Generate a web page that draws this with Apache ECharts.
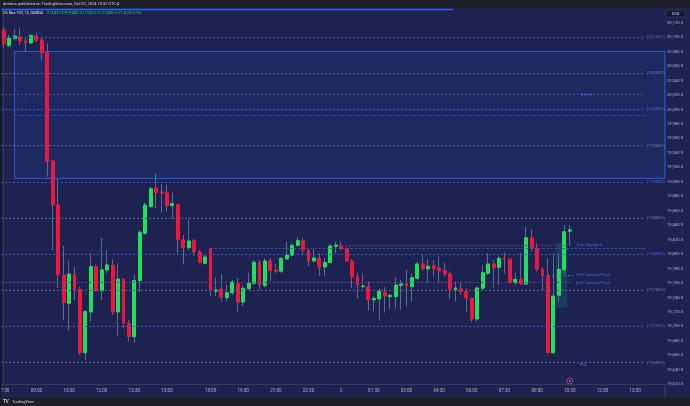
<!DOCTYPE html>
<html><head><meta charset="utf-8">
<script src="https://cdn.jsdelivr.net/npm/echarts/dist/echarts.min.js"></script>
<style>html,body{margin:0;padding:0;background:#1f2027;}#c{width:690px;height:406px;}</style>
</head><body><div id="c"></div>
<script>
// ---- data (US Nas 100, 15m, OANDA) ----
const opens = [20109.9,20088.2,20097.9,20100.6,20095.1,20091.9,20101.6,20096.1,20078.5,19928.8,
19867.9,19771.2,19732.0,19771.6,19751.4,19663.7,19720.0,19782.6,19749.4,19778.1,
19784.6,19720.0,19765.6,19704.4,19685.8,19763.3,19828.8,19865.6,19891.5,19885.9,
19884.9,19867.0,19868.4,19820.0,19808.9,19819.1,19803.0,19787.3,19808.1,19748.6,
19751.4,19739.8,19746.7,19760.1,19733.8,19752.2,19759.7,19789.1,19756.4,19790.9,
19778.1,19776.3,19793.3,19798.4,19812.2,19818.6,19805.7,19790.5,19794.6,19782.2,
19788.2,19810.8,19811.7,19807.1,19790.5,19768.8,19755.0,19755.0,19736.6,19738.0,
19747.2,19741.1,19741.1,19756.9,19759.1,19755.0,19766.6,19786.4,19779.4,19784.0,
19780.8,19777.7,19772.5,19750.8,19752.2,19748.1,19738.9,19710.3,19752.8,19773.5,
19786.4,19781.8,19794.2,19793.3,19760.5,19765.2,19758.7,19822.7,19808.1,19779.0,
19769.8,19663.7,19743.1,19778.1,19831.6];
const closes = [20090.6,20098.4,20101.6,20094.7,20092.3,20102.6,20095.1,20078.1,19927.8,19867.9,
19771.2,19732.9,19772.5,19750.4,19663.7,19720.4,19782.6,19749.4,19778.1,19785.0,
19720.0,19765.6,19704.4,19685.8,19763.3,19830.2,19867.9,19890.5,19884.9,19884.5,
19867.0,19869.7,19819.6,19808.9,19818.2,19803.0,19788.2,19796.0,19750.4,19750.4,
19740.3,19746.7,19761.5,19733.8,19752.8,19759.7,19788.7,19757.3,19790.5,19777.1,
19776.3,19794.2,19798.8,19812.2,19818.6,19805.7,19790.5,19794.6,19782.2,19788.2,
19811.2,19812.6,19807.1,19790.5,19768.0,19757.3,19755.9,19736.6,19738.9,19748.6,
19742.1,19743.1,19757.3,19758.7,19756.4,19767.4,19786.4,19779.4,19783.2,19780.4,
19777.1,19772.5,19751.4,19753.2,19748.1,19739.8,19710.3,19753.2,19774.3,19786.4,
19781.2,19794.2,19793.8,19760.5,19765.2,19758.7,19822.7,19808.1,19779.0,19770.2,
19663.7,19742.1,19779.0,19831.0,19833.5];
const lows = [20085.0,20086.8,20096.8,20089.2,20079.9,20091.2,20093.7,20067.5,19907.1,19805.7,
19753.2,19708.9,19694.1,19736.6,19660.5,19653.6,19706.6,19748.1,19736.6,19773.5,
19715.8,19686.8,19697.5,19678.9,19677.5,19746.7,19826.5,19863.4,19863.4,19857.3,
19858.7,19848.6,19801.1,19785.9,19805.7,19797.4,19787.3,19785.9,19742.1,19742.1,
19734.2,19734.2,19743.5,19720.4,19728.3,19750.4,19757.3,19751.4,19754.2,19762.8,
19773.5,19773.5,19791.9,19797.4,19810.3,19798.8,19783.6,19788.2,19769.8,19769.8,
19787.3,19801.1,19805.7,19789.5,19752.8,19738.9,19752.8,19721.4,19720.4,19707.9,
19719.0,19723.7,19725.1,19722.8,19727.3,19734.2,19764.2,19778.1,19760.5,19768.8,
19759.7,19768.8,19737.5,19734.2,19743.5,19720.4,19706.6,19706.6,19750.4,19771.2,
19752.8,19757.3,19773.5,19758.7,19757.3,19757.3,19757.3,19803.4,19775.7,19750.4,
19662.9,19661.9,19734.2,19772.5,19812.6];
const highs = [20114.1,20103.0,20110.9,20112.3,20098.4,20103.0,20106.2,20100.6,20091.5,19930.2,
19903.9,19811.2,19790.9,19782.6,19755.0,19722.8,19801.1,19785.0,19821.9,19805.7,
19792.9,19786.4,19766.6,19708.9,19771.2,19833.4,19871.1,19893.2,19911.8,19897.0,
19896.0,19884.9,19869.3,19826.5,19848.1,19820.5,19805.7,19798.8,19808.9,19768.0,
19772.1,19757.3,19764.2,19766.6,19757.3,19774.3,19791.9,19791.9,19794.2,19794.2,
19786.4,19795.1,19817.2,19815.8,19823.3,19821.9,19806.7,19807.1,19801.1,19794.2,
19814.0,19817.2,19817.2,19809.5,19792.9,19774.3,19773.5,19761.9,19742.1,19752.8,
19754.2,19744.9,19768.0,19764.2,19778.1,19773.5,19789.5,19800.2,19792.9,19790.9,
19797.4,19788.2,19775.7,19761.9,19761.1,19752.8,19740.0,19755.0,19785.0,19801.1,
19791.9,19797.4,19802.0,19794.2,19774.3,19801.1,19837.9,19834.3,19815.0,19781.8,
19794.2,19801.1,19801.1,19840.3,19840.3];

const tickIndices = [0,6,12,18,24,30,38,44,50,56,62,68,74,80,86,92,98,104,110,116];
const tickLabels  = ['07:30','09:00','10:30','12:00','13:30','15:00','18:00','19:30','21:00','22:30','2',
                     '01:30','03:00','04:30','06:00','07:30','09:00','10:30','12:00','13:30'];

const levelPrices = [20100,20050,20000,19950,19900,19850,19800,19750,19700,19650];

const rangeBox = {fromIdx: 2, top: 20080, bottom: 19904.8};
const smallBox = {fromIdx: 101.5, toIdx: 103.5, top: 19815.4, bottom: 19726.9};
const lastPrice = 19833.5, countdown = '12:23';
const boxTop = 19814.5, boxLowA = 19726.7, boxLowB = 19726.6;
const trueDayOpen = 19812.2, open930 = 19770.5, open830 = 19760.5, hEth = 20020.4;
const eventMarks = [[104, 19624.6]];

// ---- categories: 15-minute bars, market closed 17:00-18:00 ----
const N = 122;
const categories = [];
{
  let m = 7*60+30, day = 1;
  while (categories.length < N) {
    const hh = Math.floor(m/60), mm = m%60;
    if (!(hh === 17)) {
      categories.push(hh === 0 && mm === 0 ? String(day) : String(hh).padStart(2,'0')+':'+String(mm).padStart(2,'0'));
    }
    m += 15;
    if (m >= 24*60) { m -= 24*60; day = 2; }
  }
}
tickIndices.forEach((ix, k) => { categories[ix] = tickLabels[k]; });

const fmt = v => v.toLocaleString('en-US',{minimumFractionDigits:1, maximumFractionDigits:1});

const wickData = opens.map((o,i)=>[o, closes[i], lows[i], highs[i]]);
const bodyData = opens.map((o,i)=>[o, closes[i], Math.min(o,closes[i]), Math.max(o,closes[i])]);

const GREEN = '#1fe05a', RED = '#ec173e', WICK = '#5f6a8f';
const BLUE_L = '#3356c8', GREY_L = '#5b607e', BLUE_T = '#4470e0', GREY_T = '#7d82a0';
const LEFT = -0.5, LBL_END = 117.8, RIGHT = N - 0.5;

const lineItems = [];
levelPrices.forEach((p,k) => {
  const blue = k % 2 === 0;
  lineItems.push([{coord:[LEFT,p], lineStyle:{color: blue?BLUE_L:GREY_L, type:[2,2], width:1},
    label:{show:true, position:'end', distance:2, formatter:'('+fmt(p)+')', color: blue?BLUE_T:GREY_T, fontSize:4}},
    {coord:[LBL_END,p]}]);
});
const seg = (x1,x2,p,color,type,width,label,lcolor) => [{coord:[x1,p], lineStyle:{color, type, width},
   label: label ? {show:true, position:'end', distance:3, formatter:label, color:lcolor||BLUE_T, fontSize:4} : {show:false}},
   {coord:[x2,p]}];
lineItems.push(seg(LEFT, 82.5, 20138.3, '#2962ff', 'solid', 1.4));
lineItems.push(seg(LEFT, LBL_END, hEth, '#6a3f93', [2,2], 1));
lineItems.push(seg(2, LBL_END, 19991.4, BLUE_L, [2,2], 1));
lineItems.push(seg(38, LBL_END, 19807.6, BLUE_L, [2,2], 1));
lineItems.push(seg(62, 104.6, trueDayOpen, '#8c2f55', [2,2], 1, 'True Day Open'));
lineItems.push(seg(100, 104.6, open930, '#1f8a8a', [2,2], 1, '9:30 Opening Price'));
lineItems.push(seg(LEFT, 104.6, open830, '#6a3f93', [2,2], 1, '8:30 Opening Price'));
lineItems.push([{coord:[-0.3, 20050], lineStyle:{color:'#3c4266', type:[2,2], width:1}, label:{show:false}}, {coord:[5.8, 19999.3]}]);

const priceTag = (p, text, bg, fg, off) => ({yAxis: p, lineStyle:{opacity:0},
  label:{show:true, position:'end', distance:0, formatter:text, backgroundColor:bg, color:fg, fontSize:4.2,
    lineHeight:5, padding:[1,2,1,2], width:19, offset: off || [0,0]}});
lineItems.push(priceTag(lastPrice, fmt(lastPrice)+'\n'+countdown, GREEN, '#102010'));
lineItems.push(priceTag(boxTop, fmt(boxTop), '#0b9a86', '#ffffff'));
lineItems.push(priceTag(boxLowA, fmt(boxLowA), '#9598a6', '#ffffff', [0,-2]));
lineItems.push(priceTag(boxLowB, fmt(boxLowB), '#f23645', '#ffffff', [0,4]));

const chart = echarts.init(document.getElementById('c'), null, {renderer:'canvas'});
chart.setOption({
  animation: false,
  backgroundColor: '#1d2250',
  textStyle: {fontFamily: 'Roboto, sans-serif'},
  grid: {left: 1, right: 25, top: 8.2, bottom: 21.7, containLabel: false, outerBoundsMode: 'none'},
  xAxis: [{
    type:'category', data: categories, boundaryGap: true,
    axisLine:{show:true, lineStyle:{color:'#363b5c'}}, axisTick:{show:false},
    axisLabel:{interval:(i)=>tickIndices.indexOf(i)>=0, color:'#b2b5be', fontSize:4.6, margin:4},
    splitLine:{show:false}
  },{
    type:'value', min: LEFT, max: RIGHT, show:false
  }],
  yAxis: {
    type:'value', position:'right', min:19620, max:20140, interval:20, scale:true,
    axisLine:{show:true, lineStyle:{color:'#363b5c'}}, axisTick:{show:false},
    axisLabel:{color:'#b2b5be', fontSize:4.2, margin:2, formatter: v => v >= 20140 ? '' : fmt(v)},
    splitLine:{show:false}
  },
  series: [
    { type:'line', xAxisIndex:1, data:[[LEFT,19700]], showSymbol:false, lineStyle:{opacity:0}, z:1, silent:true,
      markArea:{silent:true, data:[
        [{coord:[rangeBox.fromIdx, rangeBox.top], itemStyle:{color:'rgba(41,98,255,0.10)', borderColor:'#2c5ee6', borderWidth:1}},
         {coord:[RIGHT, rangeBox.bottom]}],
        [{coord:[smallBox.fromIdx, smallBox.top], itemStyle:{color:'rgba(8,153,129,0.22)', borderColor:'rgba(8,153,129,0.35)', borderWidth:0.5}},
         {coord:[smallBox.toIdx, smallBox.bottom]}]
      ]},
      markLine:{silent:true, symbol:['none','none'], animation:false, data: lineItems},
      markPoint:{silent:true, data:[
        {coord:[107, hEth], symbolSize:0, label:{show:true, formatter:'H ETH', color:BLUE_T, fontSize:4}},
        {coord:[106.5, 19646], symbolSize:0, label:{show:true, formatter:'PDL', color:BLUE_T, fontSize:4}}
      ]}
    },
    { type:'candlestick', name:'wick', data: wickData, barWidth:1, z:3, silent:true,
      itemStyle:{color:WICK, color0:WICK, borderColor:WICK, borderColor0:WICK, borderWidth:1} },
    { type:'candlestick', name:'body', data: bodyData, barWidth:3.4, z:4, silent:true,
      itemStyle:{color:GREEN, color0:RED, borderColor:GREEN, borderColor0:RED, borderWidth:1} },
    { type:'scatter', xAxisIndex:1, data: eventMarks, symbolSize:6, z:5, silent:true,
      itemStyle:{color:'#1d2250', borderColor:'#c0487f', borderWidth:1} },
    { type:'scatter', xAxisIndex:1, data: eventMarks, symbolSize:1.6, z:6, silent:true,
      itemStyle:{color:'#e6e6ee'} }
  ],
  graphic: [
    {type:'rect', shape:{x:0,y:0,width:690,height:8}, style:{fill:'#1f2027'}, z:100},
    {type:'text', x:3, y:4, style:{text:'deeelux published on TradingView.com, Oct 02, 2024 10:32 UTC-4', fill:'#d1d4dc', fontSize:4, fontFamily:'Roboto', verticalAlign:'middle'}, z:101},
    {type:'text', x:3, y:13, style:{rich:{a:{fill:'#e0e3eb', fontSize:3.8, fontFamily:'Roboto'}, g:{fill:GREEN, fontSize:3.8, fontFamily:'Roboto'}},
      text:'{a|US Nas 100, 15, OANDA} {g|O19,831.6 H19,840.3 L19,812.6 C19,833.5 +1.4 (+0.01%)}', verticalAlign:'middle'}, z:101},
    {type:'rect', shape:{x:0,y:397,width:690,height:9}, style:{fill:'#1f2027'}, z:100},
    {type:'text', x:3, y:401.5, style:{rich:{b:{fill:'#d1d4dc', fontSize:4.5, fontWeight:'bold', fontFamily:'Roboto'}, t:{fill:'#d1d4dc', fontSize:4, fontFamily:'Roboto'}},
      text:'{b|TV} {t|TradingView}', verticalAlign:'middle'}, z:101},
    {type:'rect', shape:{x:0,y:8,width:1.5,height:389}, style:{fill:'#161a30'}, z:100},
    {type:'line', shape:{x1:665,y1:384,x2:665,y2:397}, style:{stroke:'#363b5c', lineWidth:1}, z:100},
    {type:'rect', shape:{x:666,y:10,width:19,height:7, r:1}, style:{fill:'#151933', stroke:'#4a4f6a', lineWidth:0.5}, z:100},
    {type:'text', x:675.5, y:13.5, style:{text:'USD', fill:'#d1d4dc', fontSize:4, fontFamily:'Roboto', align:'center', verticalAlign:'middle'}, z:101}
  ]
});
</script></body></html>
